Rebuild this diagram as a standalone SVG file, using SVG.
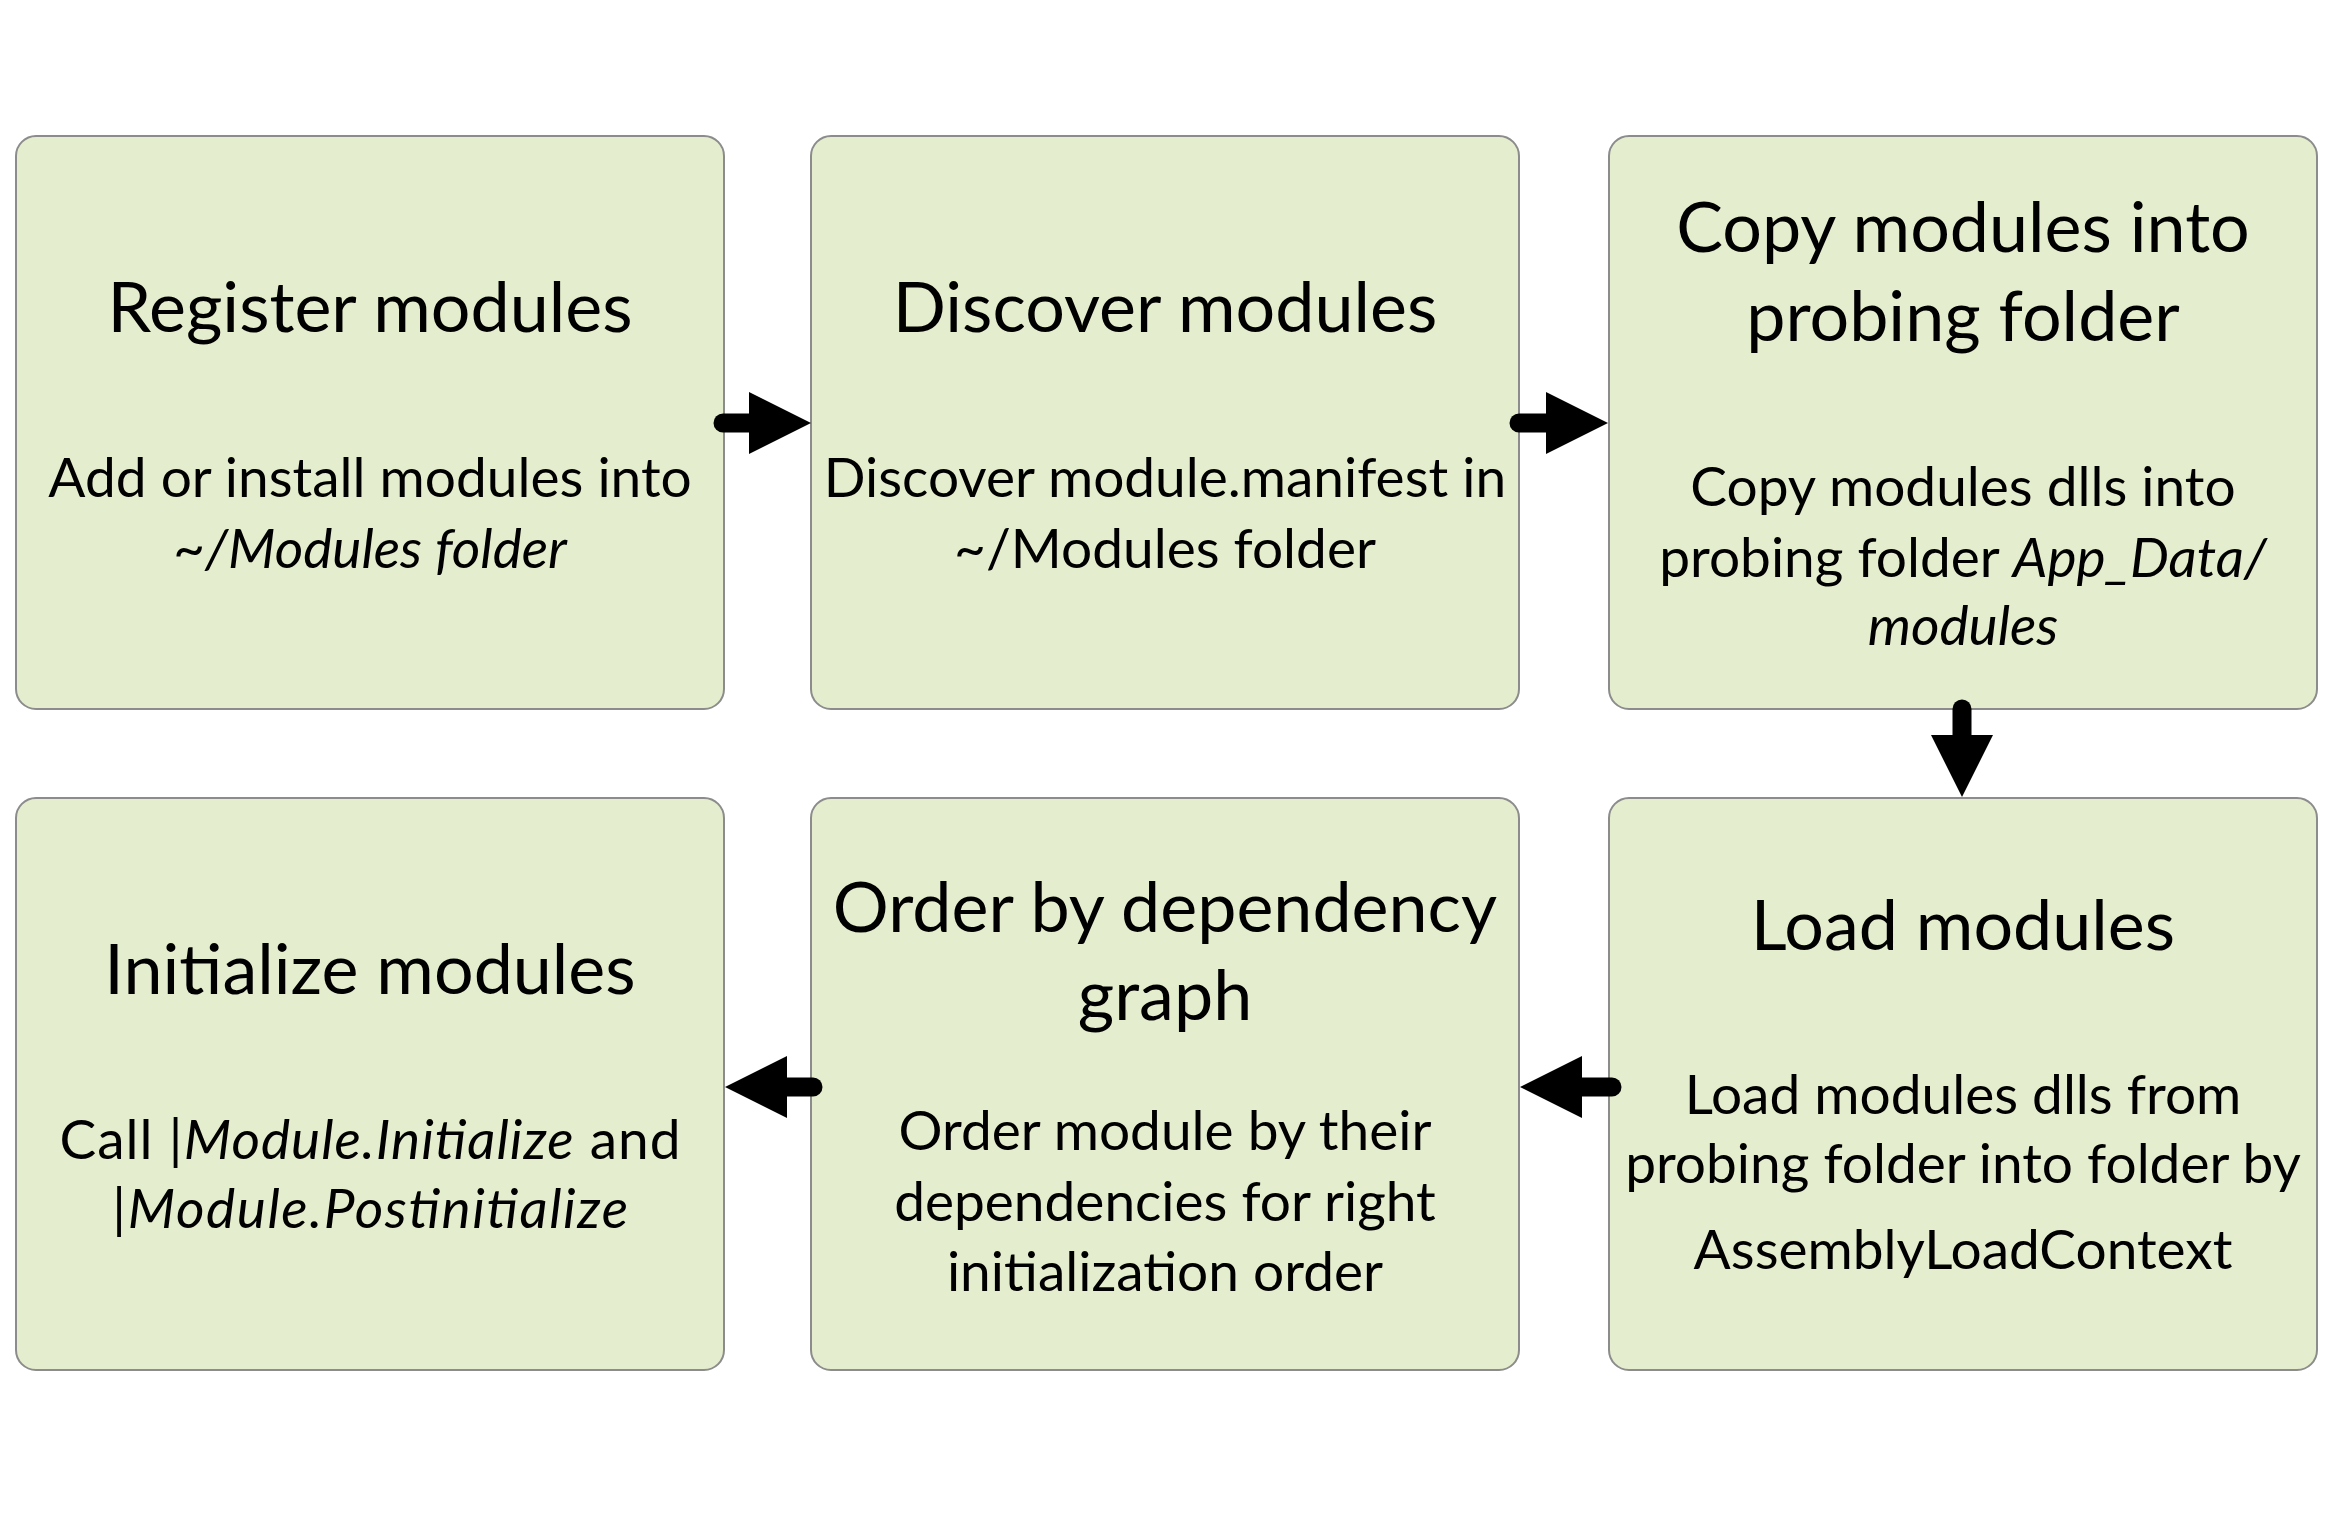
<svg xmlns="http://www.w3.org/2000/svg" width="2341" height="1513" viewBox="0 0 2341 1513">
<defs>
<style>
.box{fill:#e4edcd;stroke:#8c8c8c;stroke-width:2}
.t{font-family:Lato,"Liberation Sans",sans-serif;fill:#000;text-anchor:middle}
.h{font-size:70px}
.b{font-size:55px}
.i{font-style:italic}
.shaft{stroke:#000;stroke-width:19;stroke-linecap:round;fill:none}
.head{fill:#000}
</style>
</defs>
<rect width="2341" height="1513" fill="#fff"/>
<g id="register">
<rect class="box" x="16" y="136" width="708" height="573" rx="20"/>
<text class="t h" x="370" y="332">Register modules</text>
<text class="t b" x="370" y="497">Add or install modules into</text>
<text class="t b i" x="370" y="568">~/Modules folder</text>
</g>
<g id="discover">
<rect class="box" x="811" y="136" width="708" height="573" rx="20"/>
<text class="t h" x="1165" y="332">Discover modules</text>
<text class="t b" x="1165" y="497">Discover module.manifest in</text>
<text class="t b" x="1165" y="568">~/Modules folder</text>
</g>
<g id="copy">
<rect class="box" x="1609" y="136" width="708" height="573" rx="20"/>
<text class="t h" x="1963" y="252">Copy modules into</text>
<text class="t h" x="1963" y="341">probing folder</text>
<text class="t b" x="1963" y="506">Copy modules dlls into</text>
<text class="t b" x="1963" y="577">probing folder <tspan class="i">App_Data/</tspan></text>
<text class="t b i" x="1963" y="645">modules</text>
</g>
<g id="load">
<rect class="box" x="1609" y="798" width="708" height="572" rx="20"/>
<text class="t h" x="1963" y="950">Load modules</text>
<text class="t b" x="1963" y="1114">Load modules dlls from</text>
<text class="t b" x="1963" y="1183">probing folder into folder by</text>
<text class="t b" x="1963" y="1269">AssemblyLoadContext</text>
</g>
<g id="order">
<rect class="box" x="811" y="798" width="708" height="572" rx="20"/>
<text class="t h" x="1165" y="932">Order by dependency</text>
<text class="t h" x="1165" y="1020">graph</text>
<text class="t b" x="1165" y="1150">Order module by their</text>
<text class="t b" x="1165" y="1221">dependencies for right</text>
<text class="t b" x="1165" y="1291">initialization order</text>
</g>
<g id="initialize">
<rect class="box" x="16" y="798" width="708" height="572" rx="20"/>
<text class="t h" x="370" y="994">Initialize modules</text>
<text class="t b" x="370" y="1159" textLength="621" lengthAdjust="spacing">Call  <tspan class="i">|Module.Initialize</tspan> and</text>
<text class="t b i" x="370" y="1228" textLength="516" lengthAdjust="spacing">|Module.Postinitialize</text>
</g>
<g id="connectors">
<line class="shaft" x1="723" y1="423" x2="752" y2="423"/>
<polygon class="head" points="749,392 811,423 749,454"/>
<line class="shaft" x1="1519" y1="423" x2="1549" y2="423"/>
<polygon class="head" points="1546,392 1608,423 1546,454"/>
<line class="shaft" x1="1962" y1="709" x2="1962" y2="738"/>
<polygon class="head" points="1931,735 1993,735 1962,797"/>
<line class="shaft" x1="1612" y1="1087" x2="1579" y2="1087"/>
<polygon class="head" points="1582,1056 1520,1087 1582,1118"/>
<line class="shaft" x1="813" y1="1087" x2="784" y2="1087"/>
<polygon class="head" points="787,1056 725,1087 787,1118"/>
</g>
</svg>
